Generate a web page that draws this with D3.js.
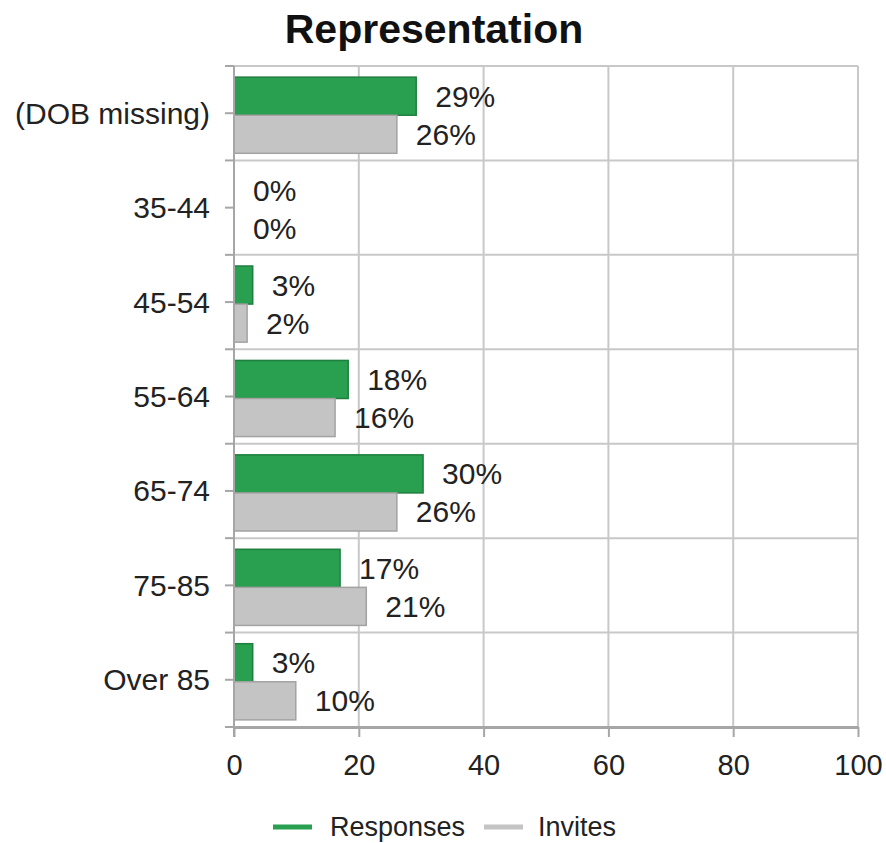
<!DOCTYPE html>
<html>
<head>
<meta charset="utf-8">
<script src="https://cdn.jsdelivr.net/npm/d3@7/dist/d3.min.js"></script>
<style>
  html, body { margin: 0; padding: 0; background: #fff; }
  svg { display: block; font-family: "Liberation Sans", Arial, sans-serif; }
</style>
</head>
<body>
<svg id="chart" width="886" height="843"></svg>
<script>
const categories = ["(DOB missing)", "35-44", "45-54", "55-64", "65-74", "75-85", "Over 85"];
const seriesNames = ["Responses", "Invites"];
const responses = [29.2, 0, 3.0, 18.3, 30.3, 17.0, 3.0];
const invites = [26.1, 0, 2.1, 16.2, 26.1, 21.2, 9.9];
const xTicks = [0, 20, 40, 60, 80, 100];
const colors = { Responses: "#28a050", Invites: "#c4c4c4" };
const strokes = { Responses: "#1f7f3e", Invites: "#a3a3a3" };

const svg = d3.select("#chart");
const margin = { left: 234, right: 28, top: 66, bottom: 116 };
const W = 886, H = 843;

const x = d3.scaleLinear().domain([0, 100]).range([margin.left, W - margin.right]);
const y = d3.scaleBand().domain(categories).range([margin.top, H - margin.bottom]).padding(0);
const ySub = d3.scaleBand().domain(seriesNames).range([2, y.bandwidth() + 2]).paddingInner(0).paddingOuter(0.24);

// Title
svg.append("text").attr("x", 434).attr("y", 43).attr("text-anchor", "middle")
  .attr("font-size", 41).attr("font-weight", "bold").attr("fill", "#111").text("Representation");

// Grid - vertical
svg.append("g").selectAll("line").data(xTicks.slice(1)).join("line")
  .attr("x1", d => x(d)).attr("x2", d => x(d))
  .attr("y1", margin.top).attr("y2", H - margin.bottom)
  .attr("stroke", "#c8c8c8").attr("stroke-width", 2);

// Grid - horizontal at category boundaries
const boundaries = categories.map(c => y(c));
svg.append("g").selectAll("line").data(boundaries).join("line")
  .attr("x1", margin.left).attr("x2", W - margin.right)
  .attr("y1", d => d).attr("y2", d => d)
  .attr("stroke", "#c8c8c8").attr("stroke-width", 2);

// Bars
const rows = categories.map((c, i) => ({ cat: c, vals: [
  { s: "Responses", v: responses[i] }, { s: "Invites", v: invites[i] } ] }));

const g = svg.append("g");
rows.forEach(r => {
  r.vals.forEach(d => {
    const yy = y(r.cat) + ySub(d.s);
    if (d.v > 0) {
      g.append("rect").attr("x", x(0)).attr("y", yy)
        .attr("width", x(d.v) - x(0)).attr("height", ySub.bandwidth())
        .attr("fill", colors[d.s]).attr("stroke", strokes[d.s]).attr("stroke-width", 1.5);
    }
    g.append("text").attr("x", x(d.v) + 19).attr("y", yy + ySub.bandwidth() / 2)
      .attr("dy", "0.35em").attr("font-size", 30).attr("fill", "#222")
      .text(Math.round(d.v) + "%");
  });
});

// Y axis
const axisColor = "#a6a6a6";
svg.append("line").attr("x1", x(0)).attr("x2", x(0))
  .attr("y1", margin.top).attr("y2", H - margin.bottom + 10)
  .attr("stroke", axisColor).attr("stroke-width", 2);
const yTickPos = [];
categories.forEach(c => { yTickPos.push(y(c)); yTickPos.push(y(c) + y.bandwidth() / 2); });
yTickPos.push(H - margin.bottom);
svg.append("g").selectAll("line").data(yTickPos).join("line")
  .attr("x1", x(0) - 9).attr("x2", x(0))
  .attr("y1", d => d).attr("y2", d => d)
  .attr("stroke", axisColor).attr("stroke-width", 2);
svg.append("g").selectAll("text").data(categories).join("text")
  .attr("x", 210).attr("y", d => y(d) + y.bandwidth() / 2)
  .attr("dy", "0.35em").attr("text-anchor", "end")
  .attr("font-size", 30).attr("fill", "#222").text(d => d);

// X axis
const xAxis = d3.axisBottom(x).tickValues(xTicks).tickSize(10).tickPadding(17).tickSizeOuter(0);
const xg = svg.append("g").attr("transform", `translate(0,${H - margin.bottom})`).call(xAxis);
xg.select(".domain").attr("stroke", axisColor).attr("stroke-width", 3);
xg.selectAll(".tick line").attr("stroke", axisColor).attr("stroke-width", 2);
xg.selectAll(".tick text").attr("font-size", 29).attr("fill", "#222")
  .attr("font-family", "'Liberation Sans', Arial, sans-serif");

// Legend
const legend = svg.append("g").attr("transform", "translate(0,827)");
const legendItems = [
  { s: "Responses", x1: 273, tx: 330 },
  { s: "Invites", x1: 484, tx: 538 }
];
legendItems.forEach(it => {
  legend.append("line").attr("x1", it.x1).attr("x2", it.x1 + 39).attr("y1", 0).attr("y2", 0)
    .attr("stroke", colors[it.s]).attr("stroke-width", 5);
  legend.append("text").attr("x", it.tx).attr("y", 0).attr("dy", "0.35em")
    .attr("font-size", 27).attr("fill", "#222").text(it.s);
});
</script>
</body>
</html>
